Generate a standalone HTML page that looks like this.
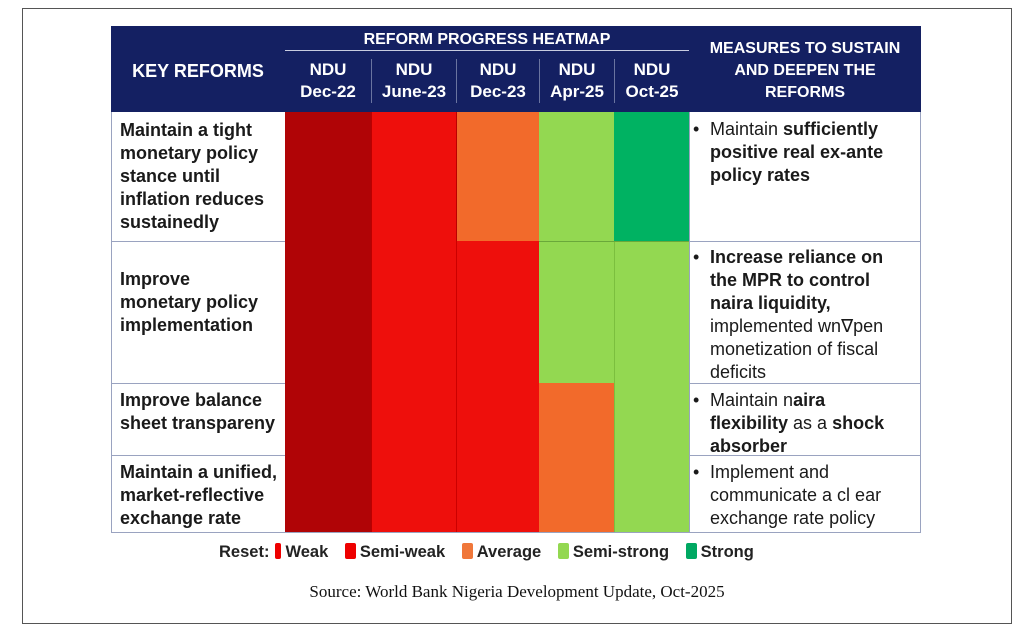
<!DOCTYPE html>
<html><head><meta charset="utf-8"><style>
body{margin:0;width:1024px;height:638px;background:#fff;position:relative;overflow:hidden;font-family:"Liberation Sans",sans-serif}
.a{position:absolute;box-sizing:border-box}
.h{color:#fff;font-weight:bold;text-align:center;font-size:17px;line-height:22px}
.t{font-size:18px;line-height:23px;color:#1a1a1a;white-space:nowrap}
.lb{font-weight:bold}
.sw{display:inline-block;width:11px;height:16px;vertical-align:-2px;margin:0 4px 0 6px;border-radius:2px}
</style></head><body>
<div class="a" style="left:22px;top:8px;width:990px;height:616px;border:1px solid #555"></div>
<div class="a" style="left:111px;top:26px;width:810px;height:86px;background:#142062"></div>
<div class="a" style="left:285px;top:50px;width:404px;height:1px;background:#c8cce0"></div>
<div class="a h" style="left:285px;top:29px;width:404px;font-size:16px">REFORM PROGRESS HEATMAP</div>
<div class="a h" style="left:111px;top:60px;width:174px;font-size:18px">KEY REFORMS</div>
<div class="a h" style="left:285px;top:59px;width:86px">NDU<br>Dec-22</div>
<div class="a h" style="left:371px;top:59px;width:85px;border-left:1px solid #6a74a0">NDU<br>June-23</div>
<div class="a h" style="left:456px;top:59px;width:83px;border-left:1px solid #6a74a0">NDU<br>Dec-23</div>
<div class="a h" style="left:539px;top:59px;width:75px;border-left:1px solid #6a74a0">NDU<br>Apr-25</div>
<div class="a h" style="left:614px;top:59px;width:75px;border-left:1px solid #6a74a0">NDU<br>Oct-25</div>
<div class="a h" style="left:689px;top:38px;width:232px;font-size:16px">MEASURES TO SUSTAIN<br>AND DEEPEN THE<br>REFORMS</div>
<div class="a" style="left:111px;top:112px;width:810px;height:421px;border:1px solid #9aa3c0;border-top:none"></div>
<div class="a" style="left:111px;top:241px;width:810px;height:1px;background:#9aa3c0"></div>
<div class="a" style="left:111px;top:383px;width:810px;height:1px;background:#9aa3c0"></div>
<div class="a" style="left:111px;top:455px;width:810px;height:1px;background:#9aa3c0"></div>
<div class="a" style="left:285px;top:112px;width:86px;height:420px;background:#b00406"></div>
<div class="a" style="left:371px;top:112px;width:85px;height:420px;background:#ee0f0c;border-left:1px solid #b00"></div>
<div class="a" style="left:456px;top:112px;width:83px;height:129px;background:#f26a2b;border-left:1px solid #b00"></div>
<div class="a" style="left:456px;top:241px;width:83px;height:291px;background:#ee0f0c;border-left:1px solid #c00"></div>
<div class="a" style="left:539px;top:112px;width:75px;height:271px;background:#93d851"></div>
<div class="a" style="left:539px;top:383px;width:75px;height:149px;background:#f26a2b"></div>
<div class="a" style="left:614px;top:112px;width:75px;height:129px;background:#00b262"></div>
<div class="a" style="left:614px;top:241px;width:75px;height:291px;background:#93d851;border-left:1px solid #7bbf3e"></div>
<div class="a" style="left:539px;top:241px;width:150px;height:1px;background:#6aa83a"></div>
<div class="a" style="left:689px;top:112px;width:1px;height:420px;background:#9aa3c0"></div>
<div class="a t lb" style="left:120px;top:119px">Maintain a tight<br>monetary policy<br>stance until<br>inflation reduces<br>sustainedly</div>
<div class="a t lb" style="left:120px;top:268px">Improve<br>monetary policy<br>implementation</div>
<div class="a t lb" style="left:120px;top:389px">Improve balance<br>sheet transpareny</div>
<div class="a t lb" style="left:120px;top:461px">Maintain a unified,<br>market-reflective<br>exchange rate</div>
<div class="a t" style="left:693px;top:118px;padding-left:17px"><span style="position:absolute;left:0">•</span>Maintain <b>sufficiently<br>positive real ex-ante<br>policy rates</b></div>
<div class="a t" style="left:693px;top:246px;padding-left:17px"><span style="position:absolute;left:0">•</span><b>Increase reliance on<br>the MPR to control<br>naira liquidity,</b><br>implemented wn∇pen<br>monetization of fiscal<br>deficits</div>
<div class="a t" style="left:693px;top:389px;padding-left:17px"><span style="position:absolute;left:0">•</span>Maintain n<b>aira<br>flexibility</b> as a <b>shock<br>absorber</b></div>
<div class="a t" style="left:693px;top:461px;padding-left:17px"><span style="position:absolute;left:0">•</span>Implement and<br>communicate a cl ear<br>exchange rate policy</div>
<div class="a" style="left:219px;top:543px;font-size:16.5px;font-weight:bold;color:#222;white-space:nowrap">Reset:<span class="sw" style="width:6px;background:#e00"></span>Weak <span class="sw" style="background:#e00;margin-left:12px"></span>Semi-weak <span class="sw" style="background:#f0773a;margin-left:12px"></span>Average <span class="sw" style="background:#93d851;margin-left:12px"></span>Semi-strong <span class="sw" style="background:#00a862;margin-left:12px"></span>Strong</div>
<div class="a" style="left:200px;top:582px;width:634px;text-align:center;font-family:'Liberation Serif',serif;font-size:17px;color:#111">Source: World Bank Nigeria Development Update, Oct-2025</div>
</body></html>
